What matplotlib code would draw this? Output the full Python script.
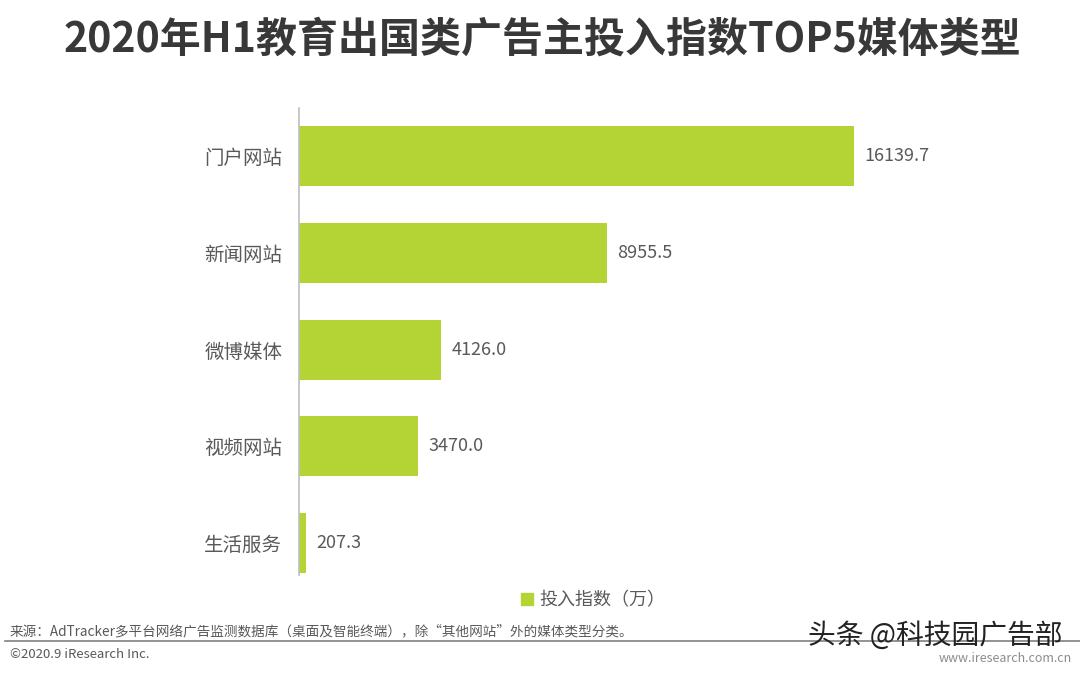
import matplotlib
matplotlib.use("Agg")
from matplotlib import pyplot as plt
from matplotlib.lines import Line2D

plt.rcParams["font.family"] = ["Noto Sans CJK SC", "DejaVu Sans"]

categories = ["门户网站", "新闻网站", "微博媒体", "视频网站", "生活服务"]
values = [16139.7, 8955.5, 4126.0, 3470.0, 207.3]
value_labels = ["16139.7", "8955.5", "4126.0", "3470.0", "207.3"]
legend_label = "投入指数（万）"
title = "2020年H1教育出国类广告主投入指数TOP5媒体类型"
source = "来源：AdTracker多平台网络广告监测数据库（桌面及智能终端），除“其他网站”外的媒体类型分类。"
copyright_text = "©2020.9 iResearch Inc."

green = "#B4D334"
gray = "#595959"

fig = plt.figure(figsize=(10.8, 6.75), dpi=100)
ax = fig.add_axes([299 / 1080, 1 - 575 / 675, 701 / 1080, 467 / 675])

pos = list(range(len(categories)))
ax.barh(pos, values, height=0.62, color=green)
for p, v, lab in zip(pos, values, value_labels):
    ax.text(v + 300, p, lab, va="center", ha="left", fontsize=13, color=gray)

ax.set_xlim(0, 20385)
ax.set_ylim(4.33, -0.5)
ax.set_yticks(pos)
ax.set_yticklabels(categories, fontsize=14, color=gray)
ax.tick_params(axis="y", length=0, pad=12)
ax.set_xticks([])
for s in ["top", "right", "bottom"]:
    ax.spines[s].set_visible(False)
ax.spines["left"].set_color("#BFBFBF")
ax.spines["left"].set_linewidth(1.2)

fig.text(542 / 1080, 1 - 40 / 675, title, ha="center", va="center",
         fontsize=29.5, fontweight="bold", color="#383838")

handle = Line2D([], [], marker="s", linestyle="", color=green, markersize=8)
fig.legend([handle], [legend_label], loc="center", bbox_to_anchor=(587 / 1080, 1 - 600 / 675),
           frameon=False, fontsize=13, handletextpad=-0.3, labelcolor=gray)

fig.text(10 / 1080, 1 - 631 / 675, source, ha="left", va="center", fontsize=9.8, color=gray)
fig.add_artist(Line2D([5 / 1080, 1], [1 - 641 / 675, 1 - 641 / 675], color="#808080", linewidth=1.2))
fig.text(10 / 1080, 1 - 655 / 675, copyright_text, ha="left", va="center", fontsize=9.5, color=gray)
fig.text(1072 / 1080, 1 - 658 / 675, "www.iresearch.com.cn", ha="right", va="center", fontsize=9, color="#8C8C8C")
fig.text(935 / 1080, 1 - 636 / 675, "头条 @科技园广告部", ha="center", va="center", fontsize=20, color="#222222")

fig.savefig("out.png", dpi=100)
